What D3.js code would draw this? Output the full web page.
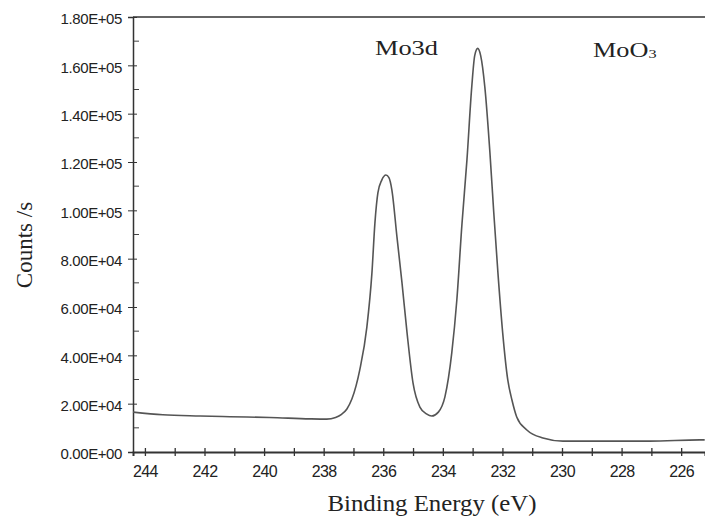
<!DOCTYPE html>
<html>
<head>
<meta charset="utf-8">
<script src="https://cdn.jsdelivr.net/npm/d3@7"></script>
<style>
  body { margin: 0; background: #fff; }
  svg { display: block; }
</style>
</head>
<body>
<svg></svg>
<script>
// binding energy (eV) and counts/s
let energy = [244.40, 243.40, 242.15, 241.15, 239.81, 238.46, 237.90, 237.60, 237.40, 237.22,
              237.05, 236.79, 236.55, 236.38, 236.28, 236.18, 236.05, 235.91, 235.81, 235.71,
              235.54, 235.37, 235.20, 235.00, 234.77, 234.55, 234.37, 234.15, 233.93, 233.70,
              233.53, 233.36, 233.19, 233.03, 232.93, 232.83, 232.73, 232.59, 232.42, 232.29,
              232.15, 231.99, 231.82, 231.68, 231.52, 231.18, 230.64, 229.97, 228.73, 227.05,
              225.38, 225.21];
let counts = [16500, 15400, 14900, 14600, 14300, 13700, 13600, 14300, 15600, 17800,
              22000, 33900, 51700, 74100, 94700, 107200, 112500, 114600, 113500, 108400,
              89000, 69900, 49200, 28500, 18600, 15800, 14900, 16500, 22800, 41000,
              62900, 94000, 121000, 151000, 164000, 167000, 164000, 151000, 124000, 99000,
              74000, 49200, 29800, 21500, 14500, 9100, 5800, 4500, 4500, 4500,
              5000, 5000];

let xMajor = [244, 242, 240, 238, 236, 234, 232, 230, 228, 226];
let xMinor = [243, 241, 239, 237, 235, 233, 231, 229, 227];
let yMajor = [0, 20000, 40000, 60000, 80000, 100000, 120000, 140000, 160000, 180000];
let yTickLabels = ['0.00E+00', '2.00E+04', '4.00E+04', '6.00E+04', '8.00E+04',
                   '1.00E+05', '1.20E+05', '1.40E+05', '1.60E+05', '1.80E+05'];
let yMinor = [10000, 30000, 50000, 70000, 90000, 110000, 130000, 150000, 170000];

let width = 705;
let height = 517;
let padLeft = 133, padTop = 17, axisY = 452;

let svg = d3.select('svg').attr('width', width).attr('height', height);

let xScale = d3.scaleLinear().domain([244.4, 225.2]).range([padLeft, width]);
let yScale = d3.scaleLinear().domain([0, 180000]).range([axisY, padTop]);

let sans = '"Liberation Sans", Arial, sans-serif';
let serif = '"Liberation Serif", "Times New Roman", serif';

/* x axis: ticks every 1 eV crossing the line, labels every 2 eV */
let xAxis = svg.append('g')
    .attr('transform', 'translate(0,' + axisY + ')')
    .call(d3.axisBottom(xScale).tickValues(xMajor.concat(xMinor))
        .tickSizeOuter(0).tickSize(4).tickPadding(10)
        .tickFormat(d => xMajor.includes(d) ? d : ''));
xAxis.select('.domain').attr('stroke', '#333').attr('stroke-width', 2);
xAxis.selectAll('.tick line').attr('y1', -4).attr('stroke', '#333').attr('stroke-width', 1.3);
xAxis.selectAll('.tick text')
    .attr('font-family', sans).attr('font-size', 16).attr('fill', '#222')
    .attr('letter-spacing', -0.6);

/* y axis */
let yAxis = svg.append('g')
    .attr('transform', 'translate(' + padLeft + ',0)')
    .call(d3.axisLeft(yScale).tickValues(yMajor)
        .tickSizeOuter(0).tickSize(5).tickPadding(6)
        .tickFormat((d, i) => yTickLabels[i]));
yAxis.select('.domain').attr('stroke', '#333').attr('stroke-width', 1.5);
yAxis.selectAll('.tick line').attr('x2', 4).attr('x1', -5).attr('stroke', '#333');
yAxis.selectAll('.tick text')
    .attr('font-family', sans).attr('font-size', 15).attr('fill', '#222')
    .attr('letter-spacing', -0.4).attr('dy', '0.45em');

svg.append('g').selectAll('line')
    .data(yMinor).enter().append('line')
    .attr('x1', padLeft + 1).attr('x2', padLeft + 6)
    .attr('y1', d => yScale(d)).attr('y2', d => yScale(d))
    .attr('stroke', '#444');

/* top frame line */
svg.append('line')
    .attr('x1', padLeft).attr('x2', width).attr('y1', padTop).attr('y2', padTop)
    .attr('stroke', '#333').attr('stroke-width', 1.5);

/* spectrum */
let points = energy.map((e, i) => [e, counts[i]]);
let line = d3.line()
    .x(d => xScale(d[0]))
    .y(d => yScale(d[1]))
    .curve(d3.curveMonotoneX);
svg.append('path')
    .datum(points)
    .attr('d', line)
    .attr('fill', 'none')
    .attr('stroke', '#555')
    .attr('stroke-width', 1.6);

/* labels */
svg.append('text')
    .attr('x', 375).attr('y', 55)
    .attr('font-family', serif).attr('font-size', 20).attr('fill', '#222')
    .attr('textLength', 63).attr('lengthAdjust', 'spacingAndGlyphs')
    .text('Mo3d');

let moo = svg.append('text')
    .attr('transform', 'translate(593,57) scale(1.25,1)')
    .attr('font-family', serif).attr('font-size', 21).attr('fill', '#222');
moo.append('tspan').text('MoO');
moo.append('tspan').attr('font-size', 13).attr('dy', 1).text('3');

svg.append('text')
    .attr('x', 432).attr('y', 511)
    .attr('text-anchor', 'middle')
    .attr('font-family', serif).attr('font-size', 23).attr('fill', '#222')
    .attr('textLength', 209).attr('lengthAdjust', 'spacingAndGlyphs')
    .text('Binding Energy (eV)');

svg.append('text')
    .attr('transform', 'translate(32,245) rotate(-90)')
    .attr('text-anchor', 'middle')
    .attr('font-family', serif).attr('font-size', 23).attr('fill', '#222')
    .text('Counts /s');
</script>
</body>
</html>
